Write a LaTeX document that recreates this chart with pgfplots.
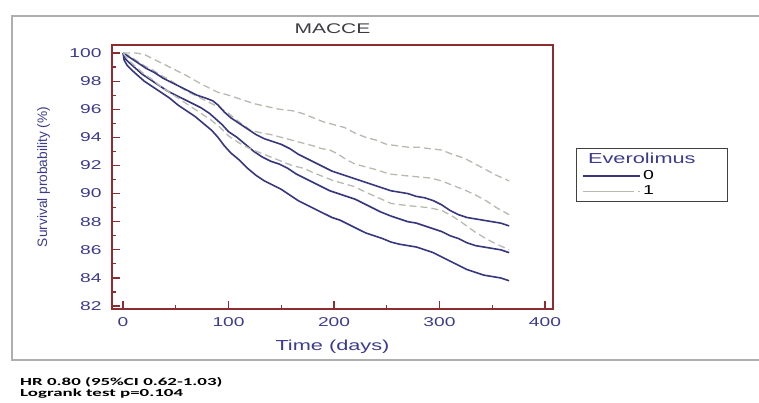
\documentclass[border=0pt]{standalone}
\usepackage{fontspec}
\setmainfont{Liberation Sans}[FakeStretch=1.5]
\newfontfamily\ylabfont{Liberation Sans}
\newfontfamily\notefont{Carlito}[FakeStretch=1.75]
\usepackage{pgfplots}
\pgfplotsset{compat=1.18}
\definecolor{axiscol}{RGB}{140,45,50}
\definecolor{tickcol}{RGB}{60,60,140}
\definecolor{line0}{RGB}{55,55,125}
\definecolor{line1}{RGB}{185,185,178}
\definecolor{framegray}{RGB}{175,175,175}
\definecolor{titlecol}{RGB}{60,60,70}

\begin{document}
\begin{tikzpicture}[x=1pt,y=1pt]
\useasboundingbox (0,0) rectangle (759,403);
\fill[white] (0,0) rectangle (759,403);
\draw[framegray, line width=2pt] (760,387) -- (12,387) -- (12,43) -- (760,43);
\begin{axis}[
  at={(112pt,94pt)}, anchor=south west,
  width=441pt, height=264pt, scale only axis,
  xmin=-10.5, xmax=407.6, ymin=81.79, ymax=100.57,
  xtick={0,100,200,300,400}, xticklabels={0,100,200,300,400},
  ytick={82,84,...,100}, yticklabels={82,84,86,88,90,92,94,96,98,100},
  minor x tick num=1, minor y tick num=1,
  xtick pos=left, ytick pos=left, tick align=inside,
  major tick length=8pt, minor tick length=4pt,
  every tick/.style={axiscol, line width=1.2pt},
  axis line style={draw=axiscol, line width=1.5pt},
  ticklabel style={font=\fontsize{12.8}{12.8}\selectfont, text=tickcol},
  yticklabel style={xshift=-7pt},
  xticklabel style={yshift=-5pt},
  title={MACCE},
  title style={at={(0.5,1)}, anchor=base, yshift=5pt, font=\fontsize{14}{14}\selectfont, text=titlecol},
  xlabel={Time (days)},
  xlabel style={at={(0.5,0)}, anchor=base, yshift=-42pt, font=\fontsize{14.5}{14.5}\selectfont, text=tickcol},
  ylabel={Survival probability (\%)},
  ylabel style={at={(axis description cs:-0.147,0.5)}, anchor=base, font=\ylabfont\fontsize{13.7}{14}\selectfont, text=tickcol},
  legend style={at={(1.052,0.61)}, anchor=north west, draw=darkgray, line width=1pt, fill=white,
    font=\fontsize{13}{13}\selectfont, cells={anchor=west}, inner xsep=6pt, inner ysep=3pt, row sep=1pt},
  legend image code/.code={\path (0pt,0pt) -- (57pt,0pt); \draw[#1] (5pt,0pt) -- (45pt,0pt);},
]
\addlegendimage{empty legend}
\addlegendentry{\hspace*{-55pt}\textcolor{tickcol}{\fontsize{14.5}{14.5}\selectfont Everolimus}\hspace*{24pt}\mbox{}}
% group 0, estimate (solid)
\addplot[line0, line width=1.6pt] coordinates {
(0,100) (2,99.6) (6,99.3) (12,98.9) (18,98.5) (26,98.1) (34,97.7) (42,97.3) (50,97.0) (58,96.7)
(66,96.4) (74,96.1) (82,95.7) (88,95.3) (94,94.9) (100,94.4) (108,94.0) (116,93.5) (124,93.0)
(132,92.6) (140,92.3) (148,92.1) (156,91.8) (164,91.4) (172,91.1) (180,90.8) (188,90.5) (196,90.2)
(204,90.0) (212,89.8) (220,89.6) (228,89.3) (236,89.0) (244,88.7) (254,88.4) (262,88.2) (270,88.0)
(278,87.9) (286,87.7) (294,87.5) (302,87.3) (310,87.0) (318,86.8) (326,86.5) (334,86.3) (342,86.2)
(350,86.1) (358,86.0) (366,85.8)};
\addlegendentry{\textcolor{black}{0}}
% group 1, estimate (dashed)
\addplot[line1, line width=1.3pt, dash pattern=on 7pt off 4pt] coordinates {
(0,100) (6,99.8) (12,99.5) (20,99.1) (28,98.8) (36,98.4) (44,98.1) (52,97.7) (60,97.3) (68,97.0)
(76,96.7) (84,96.4) (92,96.1) (100,95.7) (110,95.1) (121,94.5) (132,94.3) (140,94.2) (150,94.0)
(160,93.8) (170,93.6) (180,93.4) (188,93.2) (196,93.1) (204,92.8) (212,92.4) (220,92.1) (230,91.9)
(240,91.7) (252,91.4) (264,91.3) (278,91.2) (292,91.1) (302,90.9) (312,90.6) (324,90.25) (334,89.9)
(344,89.5) (354,89.0) (366,88.5)};
\addlegendentry{\textcolor{black}{1}}
% group 0, upper CI
\addplot[line0, line width=1.6pt, forget plot] coordinates {
(0,100) (4,99.8) (10,99.5) (16,99.2) (22,98.9) (30,98.6) (38,98.2) (46,97.9) (54,97.6) (62,97.3)
(70,97.0) (78,96.8) (85,96.6) (90,96.3) (96,95.8) (102,95.4) (110,95.0) (118,94.6) (126,94.2)
(134,93.9) (142,93.7) (150,93.5) (158,93.2) (166,92.8) (174,92.5) (182,92.2) (190,91.9) (198,91.6)
(206,91.4) (214,91.2) (222,91.0) (230,90.8) (238,90.6) (246,90.4) (254,90.2) (262,90.1) (270,90.0)
(278,89.8) (286,89.7) (294,89.5) (302,89.2) (310,88.8) (318,88.5) (326,88.3) (334,88.2) (342,88.1)
(350,88.0) (358,87.9) (366,87.7)};
% group 0, lower CI
\addplot[line0, line width=1.6pt, forget plot] coordinates {
(0,100) (1,99.5) (4,99.1) (8,98.8) (14,98.4) (20,98.0) (28,97.6) (36,97.2) (44,96.8) (52,96.3)
(60,95.9) (68,95.5) (76,95.0) (84,94.5) (90,94.0) (96,93.4) (102,92.9) (110,92.4) (118,91.8)
(126,91.3) (134,90.9) (142,90.6) (150,90.3) (158,89.9) (166,89.5) (174,89.2) (182,88.9) (190,88.6)
(198,88.3) (206,88.1) (214,87.8) (222,87.5) (230,87.2) (238,87.0) (246,86.8) (254,86.55) (262,86.4)
(270,86.3) (278,86.2) (286,86.0) (294,85.8) (302,85.5) (310,85.2) (318,84.9) (326,84.6) (334,84.4)
(342,84.2) (350,84.1) (358,84.0) (366,83.8)};
% group 1, upper CI
\addplot[line1, line width=1.3pt, dash pattern=on 7pt off 4pt, forget plot] coordinates {
(0,100) (12,100) (20,99.9) (28,99.6) (36,99.3) (44,99.0) (52,98.7) (60,98.4) (67,98.1) (74,97.8)
(82,97.5) (90,97.2) (100,97.0) (112,96.7) (124,96.4) (136,96.2) (148,96.0) (160,95.9) (170,95.7)
(180,95.4) (190,95.1) (200,94.9) (210,94.7) (220,94.3) (230,94.0) (240,93.8) (250,93.5) (260,93.4)
(270,93.3) (280,93.3) (290,93.2) (302,93.1) (312,92.8) (324,92.5) (334,92.1) (344,91.7) (354,91.3)
(366,90.9)};
% group 1, lower CI
\addplot[line1, line width=1.3pt, dash pattern=on 7pt off 4pt, forget plot] coordinates {
(0,100) (3,99.7) (8,99.3) (14,98.9) (20,98.5) (28,98.1) (36,97.6) (44,97.2) (52,96.8) (60,96.4)
(68,96.0) (76,95.6) (84,95.2) (92,94.7) (100,94.1) (110,93.6) (120,93.2) (130,92.9) (140,92.6)
(150,92.3) (160,92.0) (171,91.8) (180,91.5) (190,91.2) (200,90.9) (210,90.7) (219,90.5) (230,90.1)
(242,89.7) (254,89.3) (264,89.2) (276,89.1) (290,89.0) (302,88.8) (312,88.4) (322,87.9) (333,87.3)
(344,86.8) (354,86.4) (366,86.0)};
\end{axis}
\node[anchor=base west, inner sep=0pt, font=\notefont\bfseries\fontsize{10.8}{11}\selectfont] at (20,17) {HR 0.80 (95\%CI 0.62-1.03)};
\node[anchor=base west, inner sep=0pt, font=\notefont\bfseries\fontsize{10.8}{11}\selectfont] at (20,6.5) {Logrank test p=0.104};
\end{tikzpicture}
\end{document}
